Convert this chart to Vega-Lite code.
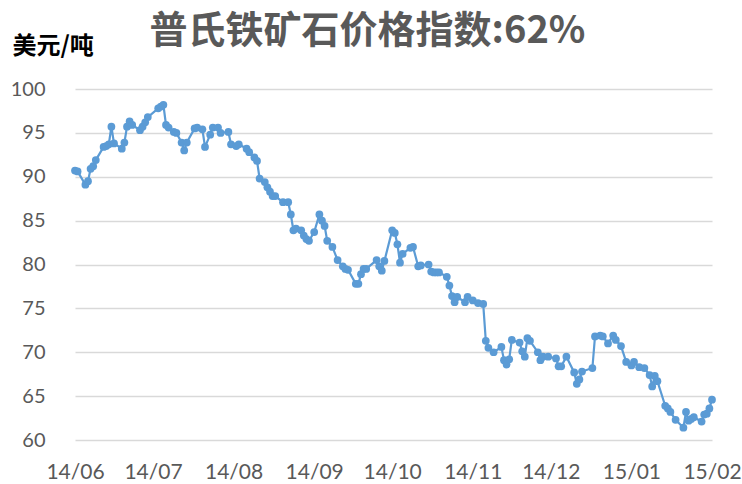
{
  "$schema": "https://vega.github.io/schema/vega-lite/v6.json",
  "width": 637,
  "height": 351,
  "autosize": {"type": "none"},
  "padding": {"left": 75, "top": 89, "right": 30, "bottom": 44},
  "background": "white",
  "config": {"view": {"stroke": null}},
  "title": {
    "text": "普氏铁矿石价格指数:62%",
    "font": "Noto Sans CJK SC",
    "fontSize": 38,
    "fontWeight": "bold",
    "color": "#595959",
    "anchor": "middle",
    "dx": -26,
    "dy": 21
  },
  "data": {
    "values": [
      {"date": "2014-06-02", "price": 90.7},
      {"date": "2014-06-03", "price": 90.6},
      {"date": "2014-06-06", "price": 89.1},
      {"date": "2014-06-07", "price": 89.5},
      {"date": "2014-06-08", "price": 90.9},
      {"date": "2014-06-09", "price": 91.2},
      {"date": "2014-06-10", "price": 91.9},
      {"date": "2014-06-13", "price": 93.4},
      {"date": "2014-06-14", "price": 93.5},
      {"date": "2014-06-15", "price": 93.7},
      {"date": "2014-06-16", "price": 95.7},
      {"date": "2014-06-17", "price": 93.8},
      {"date": "2014-06-20", "price": 93.2},
      {"date": "2014-06-21", "price": 93.9},
      {"date": "2014-06-22", "price": 95.7},
      {"date": "2014-06-23", "price": 96.3},
      {"date": "2014-06-24", "price": 95.9},
      {"date": "2014-06-27", "price": 95.3},
      {"date": "2014-06-28", "price": 95.7},
      {"date": "2014-06-29", "price": 96.2},
      {"date": "2014-06-30", "price": 96.8},
      {"date": "2014-07-04", "price": 97.8},
      {"date": "2014-07-05", "price": 98.0},
      {"date": "2014-07-06", "price": 98.2},
      {"date": "2014-07-07", "price": 95.9},
      {"date": "2014-07-08", "price": 95.6},
      {"date": "2014-07-10", "price": 95.1},
      {"date": "2014-07-11", "price": 95.0},
      {"date": "2014-07-13", "price": 93.9},
      {"date": "2014-07-14", "price": 93.0},
      {"date": "2014-07-15", "price": 93.9},
      {"date": "2014-07-18", "price": 95.5},
      {"date": "2014-07-19", "price": 95.6},
      {"date": "2014-07-21", "price": 95.4},
      {"date": "2014-07-22", "price": 93.4},
      {"date": "2014-07-24", "price": 94.8},
      {"date": "2014-07-25", "price": 95.6},
      {"date": "2014-07-27", "price": 95.6},
      {"date": "2014-07-28", "price": 95.0},
      {"date": "2014-07-31", "price": 95.1},
      {"date": "2014-08-01", "price": 93.7},
      {"date": "2014-08-03", "price": 93.5},
      {"date": "2014-08-04", "price": 93.7},
      {"date": "2014-08-07", "price": 93.2},
      {"date": "2014-08-08", "price": 92.8},
      {"date": "2014-08-10", "price": 92.2},
      {"date": "2014-08-11", "price": 91.8},
      {"date": "2014-08-12", "price": 89.8},
      {"date": "2014-08-14", "price": 89.4},
      {"date": "2014-08-15", "price": 88.8},
      {"date": "2014-08-16", "price": 88.3},
      {"date": "2014-08-17", "price": 87.8},
      {"date": "2014-08-18", "price": 87.8},
      {"date": "2014-08-21", "price": 87.1},
      {"date": "2014-08-23", "price": 87.1},
      {"date": "2014-08-24", "price": 85.7},
      {"date": "2014-08-25", "price": 83.9},
      {"date": "2014-08-26", "price": 84.1},
      {"date": "2014-08-28", "price": 83.9},
      {"date": "2014-08-29", "price": 83.3},
      {"date": "2014-08-30", "price": 82.9},
      {"date": "2014-08-31", "price": 82.7},
      {"date": "2014-09-02", "price": 83.7},
      {"date": "2014-09-04", "price": 85.7},
      {"date": "2014-09-05", "price": 85.0},
      {"date": "2014-09-06", "price": 84.4},
      {"date": "2014-09-07", "price": 82.7},
      {"date": "2014-09-09", "price": 82.0},
      {"date": "2014-09-11", "price": 80.5},
      {"date": "2014-09-13", "price": 79.8},
      {"date": "2014-09-14", "price": 79.5},
      {"date": "2014-09-15", "price": 79.4},
      {"date": "2014-09-18", "price": 77.8},
      {"date": "2014-09-19", "price": 77.8},
      {"date": "2014-09-20", "price": 78.9},
      {"date": "2014-09-21", "price": 79.5},
      {"date": "2014-09-22", "price": 79.5},
      {"date": "2014-09-26", "price": 80.5},
      {"date": "2014-09-27", "price": 79.8},
      {"date": "2014-09-28", "price": 79.3},
      {"date": "2014-09-29", "price": 80.4},
      {"date": "2014-10-02", "price": 83.9},
      {"date": "2014-10-03", "price": 83.6},
      {"date": "2014-10-04", "price": 82.3},
      {"date": "2014-10-05", "price": 80.2},
      {"date": "2014-10-06", "price": 81.2},
      {"date": "2014-10-09", "price": 81.9},
      {"date": "2014-10-10", "price": 82.0},
      {"date": "2014-10-12", "price": 79.8},
      {"date": "2014-10-13", "price": 79.9},
      {"date": "2014-10-16", "price": 80.0},
      {"date": "2014-10-17", "price": 79.2},
      {"date": "2014-10-18", "price": 79.1},
      {"date": "2014-10-19", "price": 79.1},
      {"date": "2014-10-20", "price": 79.1},
      {"date": "2014-10-23", "price": 78.6},
      {"date": "2014-10-24", "price": 77.6},
      {"date": "2014-10-25", "price": 76.4},
      {"date": "2014-10-26", "price": 75.7},
      {"date": "2014-10-27", "price": 76.3},
      {"date": "2014-10-30", "price": 75.7},
      {"date": "2014-10-31", "price": 76.3},
      {"date": "2014-11-02", "price": 75.9},
      {"date": "2014-11-04", "price": 75.6},
      {"date": "2014-11-06", "price": 75.5},
      {"date": "2014-11-07", "price": 71.3},
      {"date": "2014-11-08", "price": 70.5},
      {"date": "2014-11-10", "price": 70.0},
      {"date": "2014-11-13", "price": 70.6},
      {"date": "2014-11-14", "price": 69.1},
      {"date": "2014-11-15", "price": 68.6},
      {"date": "2014-11-16", "price": 69.2},
      {"date": "2014-11-17", "price": 71.4},
      {"date": "2014-11-20", "price": 71.1},
      {"date": "2014-11-21", "price": 70.1},
      {"date": "2014-11-22", "price": 69.5},
      {"date": "2014-11-23", "price": 71.6},
      {"date": "2014-11-24", "price": 71.3},
      {"date": "2014-11-27", "price": 70.0},
      {"date": "2014-11-28", "price": 69.1},
      {"date": "2014-11-29", "price": 69.5},
      {"date": "2014-12-01", "price": 69.5},
      {"date": "2014-12-04", "price": 69.3},
      {"date": "2014-12-05", "price": 68.4},
      {"date": "2014-12-06", "price": 68.4},
      {"date": "2014-12-08", "price": 69.5},
      {"date": "2014-12-11", "price": 67.7},
      {"date": "2014-12-12", "price": 66.4},
      {"date": "2014-12-13", "price": 66.9},
      {"date": "2014-12-14", "price": 67.8},
      {"date": "2014-12-18", "price": 68.2},
      {"date": "2014-12-19", "price": 71.8},
      {"date": "2014-12-21", "price": 71.9},
      {"date": "2014-12-22", "price": 71.8},
      {"date": "2014-12-24", "price": 71.0},
      {"date": "2014-12-26", "price": 71.9},
      {"date": "2014-12-27", "price": 71.4},
      {"date": "2014-12-29", "price": 70.7},
      {"date": "2014-12-31", "price": 68.9},
      {"date": "2015-01-02", "price": 68.5},
      {"date": "2015-01-03", "price": 68.9},
      {"date": "2015-01-05", "price": 68.3},
      {"date": "2015-01-07", "price": 68.2},
      {"date": "2015-01-09", "price": 67.4},
      {"date": "2015-01-10", "price": 66.1},
      {"date": "2015-01-11", "price": 67.3},
      {"date": "2015-01-12", "price": 66.7},
      {"date": "2015-01-15", "price": 63.9},
      {"date": "2015-01-16", "price": 63.6},
      {"date": "2015-01-17", "price": 63.2},
      {"date": "2015-01-19", "price": 62.3},
      {"date": "2015-01-22", "price": 61.4},
      {"date": "2015-01-23", "price": 63.2},
      {"date": "2015-01-24", "price": 62.2},
      {"date": "2015-01-25", "price": 62.4},
      {"date": "2015-01-26", "price": 62.6},
      {"date": "2015-01-29", "price": 62.1},
      {"date": "2015-01-30", "price": 62.9},
      {"date": "2015-01-31", "price": 63.0},
      {"date": "2015-02-01", "price": 63.6},
      {"date": "2015-02-02", "price": 64.6}
    ]
  },
  "encoding": {
    "x": {
      "field": "date",
      "type": "temporal",
      "scale": {
        "type": "utc",
        "domain": [
          {"year": 2014, "month": 6, "date": 2, "utc": true},
          {"year": 2015, "month": 2, "date": 2, "utc": true}
        ]
      },
      "axis": {
        "values": [
          {"year": 2014, "month": 6, "date": 2, "utc": true},
          {"year": 2014, "month": 7, "date": 2, "utc": true},
          {"year": 2014, "month": 8, "date": 2, "utc": true},
          {"year": 2014, "month": 9, "date": 2, "utc": true},
          {"year": 2014, "month": 10, "date": 2, "utc": true},
          {"year": 2014, "month": 11, "date": 2, "utc": true},
          {"year": 2014, "month": 12, "date": 2, "utc": true},
          {"year": 2015, "month": 1, "date": 2, "utc": true},
          {"year": 2015, "month": 2, "date": 2, "utc": true}
        ],
        "format": "%y/%m",
        "title": null,
        "grid": false,
        "domain": false,
        "ticks": false,
        "tickSize": 0,
        "labelPadding": 21,
        "labelFont": "Lato",
        "labelFontSize": 21,
        "labelColor": "#595959",
        "labelOverlap": false,
        "labelFlush": false
      }
    },
    "y": {
      "field": "price",
      "type": "quantitative",
      "scale": {"domain": [60, 100], "nice": false, "zero": false},
      "axis": {
        "values": [60, 65, 70, 75, 80, 85, 90, 95, 100],
        "grid": true,
        "gridColor": "#D9D9D9",
        "gridWidth": 1.3,
        "domain": false,
        "ticks": false,
        "tickSize": 0,
        "labelPadding": 30,
        "labelFont": "Lato",
        "labelFontSize": 20,
        "labelColor": "#595959",
        "title": "美元/吨",
        "titleAngle": 0,
        "titleAlign": "left",
        "titleBaseline": "bottom",
        "titleX": -63,
        "titleY": -31,
        "titleFont": "Noto Sans CJK SC",
        "titleFontSize": 24,
        "titleFontWeight": "bold",
        "titleColor": "#000000"
      }
    }
  },
  "layer": [
    {"mark": {"type": "line", "color": "#5B9BD5", "strokeWidth": 2.2}},
    {"mark": {"type": "point", "filled": true, "color": "#5B9BD5", "size": 60, "opacity": 1}}
  ]
}
